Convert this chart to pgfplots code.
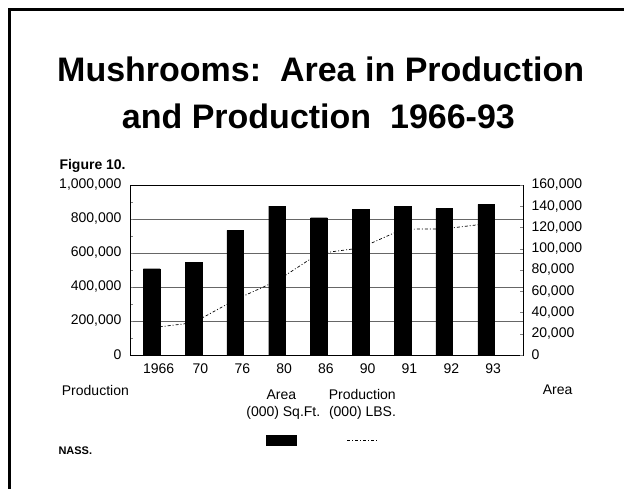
\documentclass[border=0pt]{standalone}
\usepackage{pgfplots}
\pgfplotsset{compat=1.18}
\usepackage{fontspec}
\setmainfont{Liberation Sans}

\newcommand{\fs}[1]{\fontsize{#1}{#1}\selectfont}

\begin{document}
\begin{tikzpicture}
\path[use as bounding box] (0,0) rectangle (624bp,-489bp);
% slide frame, open at right and bottom
\draw[line width=3bp] (9.5bp,-495bp) -- (9.5bp,-9.5bp) -- (630bp,-9.5bp);

\node[anchor=base, inner sep=0pt] at (320.7bp,-81bp) {\fs{34bp}\bfseries Mushrooms:\ \ Area in Production};
\node[anchor=base, inner sep=0pt] at (318.4bp,-128.3bp) {\fs{34bp}\bfseries and Production\ \ 1966-93};
\node[anchor=base west, inner sep=0pt] at (59.3bp,-169.3bp) {\fs{14bp}\bfseries Figure 10.};

% production (000 lbs), left scale
\begin{axis}[
    at={(130bp,-355bp)}, anchor=south west,
    scale only axis, width=393.3bp, height=170bp,
    xmin=-0.519, xmax=8.89, ymin=0, ymax=1000000,
    enlargelimits=false, scaled y ticks=false,
    xtick={0,1,2,3,4,5,6,7,8},
    xticklabels={1966,70,76,80,86,90,91,92,93},
    xtick style={draw=none},
    xticklabel style={anchor=north, inner sep=0pt, yshift=-8.3bp, xshift=7bp, font=\fs{14bp}},
    ytick={0,200000,400000,600000,800000,1000000},
    minor ytick={100000,300000,500000,700000,900000},
    yticklabels={{0},{200,000},{400,000},{600,000},{800,000},{1,000,000}},
    ytick pos=left,
    tick align=inside,
    major tick length=3bp, minor tick length=3bp,
    ymajorgrids,
    grid style={black!60, line width=0.8bp},
    axis line style={line width=0.8bp},
    yticklabel style={anchor=east, inner sep=0pt, xshift=-8.3bp, font=\fs{14bp}},
]
\addplot[black, line width=0.7bp, dash pattern=on 3bp off 2bp on 1bp off 2bp] coordinates {
    (0,160000) (1,190000) (2,325000) (3,437000) (4,597000)
    (5,630000) (6,740000) (7,742000) (8,772000)
};
\end{axis}

% area (000 sq ft), right scale
\begin{axis}[
    at={(130bp,-355bp)}, anchor=south west,
    scale only axis, width=393.3bp, height=170bp,
    xmin=-0.519, xmax=8.89, ymin=0, ymax=160000,
    enlargelimits=false, scaled y ticks=false,
    axis y line*=right, axis x line=none,
    ybar, bar width=16.7bp,
    ytick={0,20000,40000,60000,80000,100000,120000,140000,160000},
    yticklabels={{0},{20,000},{40,000},{60,000},{80,000},{100,000},{120,000},{140,000},{160,000}},
    tick align=inside, major tick length=3bp,
    axis line style={line width=0.8bp},
    yticklabel style={anchor=west, inner sep=0pt, xshift=8bp, font=\fs{14bp}},
]
\addplot[fill=black, draw=black] coordinates {
    (0,81200) (1,87200) (2,117300) (3,140200) (4,129200)
    (5,137100) (6,139600) (7,137700) (8,141800)
};
\end{axis}

\node[anchor=base west, inner sep=0pt] at (61.7bp,-395.7bp) {\fs{14bp}Production};
\node[anchor=base west, inner sep=0pt] at (542.7bp,-394bp) {\fs{14bp}Area};

% legend
\node[anchor=base, inner sep=0pt] at (281.3bp,-399bp) {\fs{14bp}Area};
\node[anchor=base, inner sep=0pt] at (283.3bp,-416.7bp) {\fs{14bp}(000) Sq.Ft.};
\node[anchor=base, inner sep=0pt] at (362.3bp,-399bp) {\fs{14bp}Production};
\node[anchor=base, inner sep=0pt] at (362.5bp,-416.7bp) {\fs{14bp}(000) LBS.};
\fill (266bp,-435bp) rectangle (297.3bp,-445.7bp);
\draw[line width=0.7bp, dash pattern=on 3bp off 2bp on 1bp off 2bp] (347bp,-440bp) -- (378bp,-440bp);

\node[anchor=base west, inner sep=0pt] at (58.3bp,-454bp) {\fs{11bp}\bfseries NASS.};
\end{tikzpicture}
\end{document}
